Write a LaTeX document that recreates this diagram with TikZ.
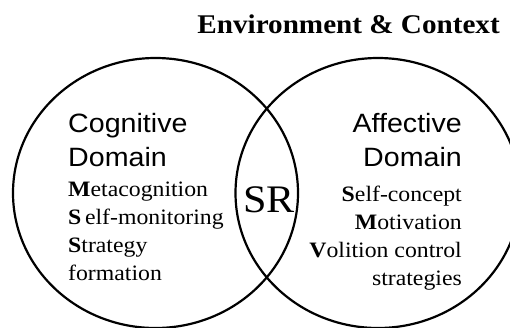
\documentclass[tikz,border=0pt]{standalone}
\usepackage{fontspec}
\setmainfont[FakeStretch=1.08]{Liberation Serif}
\newfontfamily\headfont[FakeStretch=1.08]{Liberation Sans}
\usetikzlibrary{positioning}

\tikzset{
  ring/.style={line width=2.2pt},
  heading/.style={font=\headfont\fontsize{26.5}{34}\selectfont, inner sep=0pt},
  items/.style={font=\fontsize{22}{28}\selectfont, inner sep=0pt},
  title/.style={font=\bfseries\fontsize{27}{30}\selectfont, inner sep=0pt}
}

\begin{document}
\begin{tikzpicture}[x=1pt,y=-1pt]
  \useasboundingbox (0,0) rectangle (510,327);
  \clip (0,0) rectangle (510,327);
  % the two domains
  \coordinate (L) at (155.5,193);
  \coordinate (R) at (378,193);
  \draw[ring] (L) ellipse (142.5 and 135);
  \draw[ring] (R) ellipse (142.5 and 135);

  \node[title, anchor=base east] (env) at (500,33) {Environment \& Context};

  % left side
  \node[heading, align=left, anchor=north west] (cog) at (68,113) {Cognitive\\Domain};
  \node[items, align=left, below right=15pt and 0pt of cog.south west] (coglist)
    {\textbf{M}etacognition\\\textbf{S}\,elf-monitoring\\\textbf{S}trategy\\formation};

  % right side
  \node[heading, align=right, anchor=north east] (aff) at (462,113) {Affective\\Domain};
  \node[items, align=right, below left=19pt and 0pt of aff.south east] (afflist)
    {\textbf{S}elf-concept\\\textbf{M}otivation\\\textbf{V}olition control\\strategies};

  % overlap
  \node[font=\fontsize{39}{39}\selectfont, inner sep=0pt, anchor=base] (sr) at (269,212) {SR};
\end{tikzpicture}
\end{document}
